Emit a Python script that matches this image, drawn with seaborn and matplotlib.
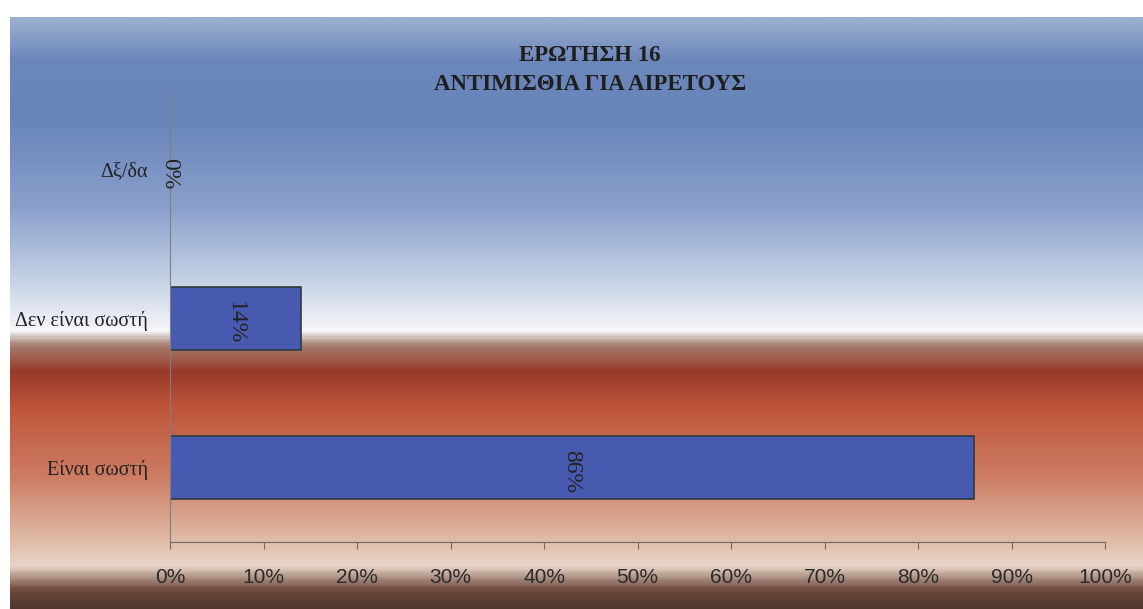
import numpy as np
import pandas as pd
import seaborn as sns
import matplotlib.pyplot as plt
from matplotlib.colors import LinearSegmentedColormap

categories = ['Δξ/δα', 'Δεν είναι σωστή', 'Είναι σωστή']
values = [0, 14, 86]
value_labels = ['0%', '14%', '86%']
x_ticks = list(range(0, 101, 10))
x_tick_labels = [f'{t}%' for t in x_ticks]
title = 'ΕΡΩΤΗΣΗ 16\nΑΝΤΙΜΙΣΘΙΑ ΓΙΑ ΑΙΡΕΤΟΥΣ'

sns.set_style('white')
plt.rcParams['font.family'] = ['Liberation Serif', 'DejaVu Serif']

fig = plt.figure(figsize=(11.43, 6.09), dpi=100)
fig.patch.set_facecolor('white')

# scanned-page style backdrop: blue sky fading to white, then red-brown
bg = fig.add_axes([10 / 1143, 0, 1 - 10 / 1143, 1 - 17 / 609], zorder=-1)
stops = [
    (0.00, (155, 175, 208)),
    (0.07, (108, 135, 186)),
    (0.17, (104, 132, 185)),
    (0.32, (138, 160, 203)),
    (0.45, (200, 212, 230)),
    (0.53, (245, 246, 248)),
    (0.555, (165, 125, 110)),
    (0.60, (152, 58, 42)),
    (0.66, (190, 85, 58)),
    (0.78, (205, 125, 100)),
    (0.89, (225, 190, 170)),
    (0.93, (232, 212, 198)),
    (0.97, (110, 75, 62)),
    (1.00, (80, 55, 45)),
]
cmap = LinearSegmentedColormap.from_list(
    'bg', [(p, tuple(c / 255 for c in rgb)) for p, rgb in stops])
grad = np.linspace(0, 1, 600).reshape(-1, 1)
bg.imshow(grad, aspect='auto', cmap=cmap, extent=[0, 1, 1, 0])
bg.set_axis_off()

ax = fig.add_axes([170 / 1143, 1 - 542 / 609, (1105 - 170) / 1143, (542 - 95) / 609])
ax.patch.set_alpha(0)

df = pd.DataFrame({'category': categories, 'value': values})
sns.barplot(data=df, x='value', y='category', orient='h', ax=ax,
            color='#4859b0', edgecolor='#2e3a3a', linewidth=1.2,
            width=0.42, saturation=1)

for i, (v, lab) in enumerate(zip(values, value_labels)):
    ax.text(v / 2, i + 0.03, lab, rotation=-90, ha='center', va='center',
            fontsize=17, color='#222222')

ax.set_xlim(0, 100)
ax.set_ylim(2.5, -0.5)
ax.set_xticks(x_ticks)
ax.set_xticklabels(x_tick_labels,
                   family=['Liberation Sans Narrow', 'Liberation Sans', 'DejaVu Sans'],
                   fontsize=15, color='#2a2a2a')
ax.tick_params(axis='x', direction='out', length=5, width=0.8,
               color='#6a6a5a', pad=14, bottom=True)
ax.tick_params(axis='y', length=0, pad=16, labelsize=14.5, labelcolor='#222222')
ax.set_xlabel('')
ax.set_ylabel('')

for side in ['top', 'right']:
    ax.spines[side].set_visible(False)
ax.spines['left'].set_color('#7a7f88')
ax.spines['left'].set_linewidth(0.8)
ax.spines['bottom'].set_color('#6a6a5a')
ax.spines['bottom'].set_linewidth(0.8)

fig.text(590 / 1143, 1 - 70 / 609, title, ha='center', va='center',
         fontsize=16.5, fontweight='bold', color='#1e1e1e', linespacing=1.45)

fig.savefig('out.png', dpi=100)
